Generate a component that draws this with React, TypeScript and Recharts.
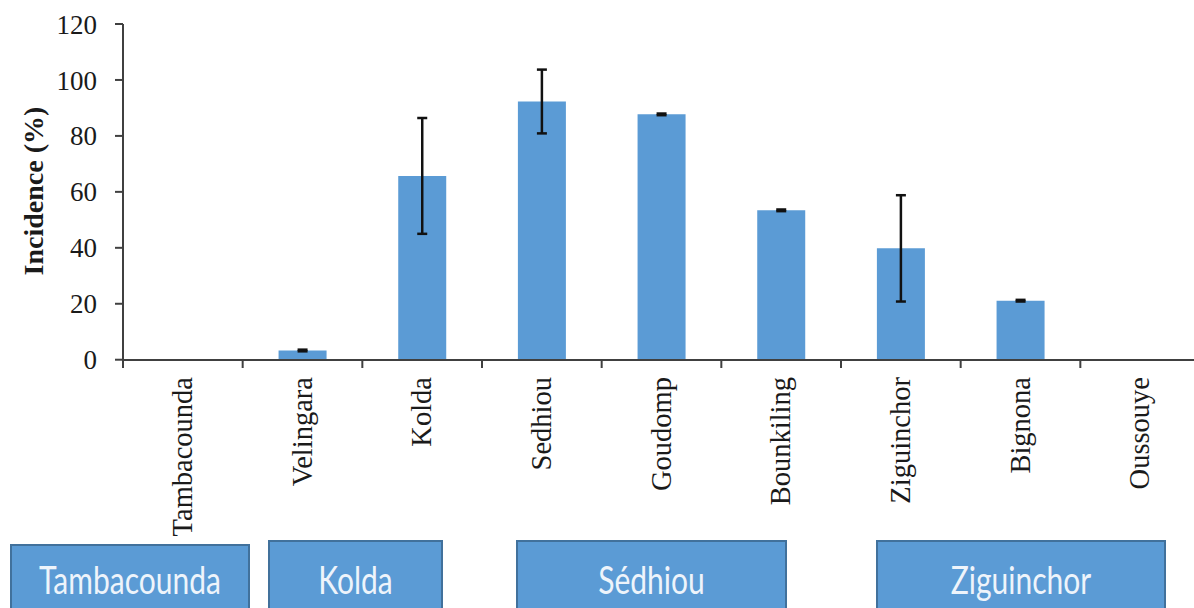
import { BarChart, Bar, XAxis, YAxis, ErrorBar } from 'recharts';

// Disease incidence per department, grouped by region
const districts = [
  'Tambacounda',
  'Velingara',
  'Kolda',
  'Sedhiou',
  'Goudomp',
  'Bounkiling',
  'Ziguinchor',
  'Bignona',
  'Oussouye',
];
const incidence = [0, 3.3, 65.7, 92.3, 87.7, 53.4, 39.8, 21.1, 0];
const errors = [0.1, 0.3, 20.7, 11.4, 0.3, 0.3, 19, 0.3, 0.1];
const yTicks = [0, 20, 40, 60, 80, 100, 120];
const regions = ['Tambacounda', 'Kolda', 'Sédhiou', 'Ziguinchor'];

const data = districts.map((district, i) => ({
  district,
  incidence: incidence[i],
  err: errors[i],
}));

// layout of the region boxes under the axis
const boxLayout = [
  { left: 10, top: 544, width: 240 },
  { left: 268, top: 540, width: 175 },
  { left: 516, top: 540, width: 271 },
  { left: 876, top: 540, width: 290 },
];

const SERIF = '"Liberation Serif", "Times New Roman", serif';
const AXIS = '#404040';

function DistrictTick(props: any) {
  const { x, y, payload, index } = props;
  const half = payload?.offset || 59.8;
  return (
    <g>
      <line x1={x - half} y1={y} x2={x - half} y2={y + 8} stroke={AXIS} strokeWidth={2} />
      {index === districts.length - 1 && (
        <line x1={x + half} y1={y} x2={x + half} y2={y + 8} stroke={AXIS} strokeWidth={2} />
      )}
      <text
        transform={`translate(${x + 9},${y + 17}) rotate(-90)`}
        textAnchor="end"
        fontFamily={SERIF}
        fontSize={28.5}
        fill="#1a1a1a"
      >
        {payload.value}
      </text>
    </g>
  );
}

export default function App() {
  return (
    <div
      style={{
        position: 'absolute',
        left: 0,
        top: 0,
        width: 1194,
        height: 608,
        overflow: 'hidden',
        background: '#fff',
      }}
    >
      <BarChart
        width={1200}
        height={608}
        data={data}
        margin={{ top: 24, right: 0, left: 0, bottom: 0 }}
        barCategoryGap="30%"
      >
        <XAxis
          dataKey="district"
          height={248}
          interval={0}
          tickLine={false}
          tickSize={0}
          tickMargin={0}
          axisLine={{ stroke: AXIS, strokeWidth: 2 }}
          tick={DistrictTick}
        />
        <YAxis
          domain={[0, 120]}
          ticks={yTicks}
          width={123}
          tickSize={8}
          tickMargin={18}
          axisLine={{ stroke: AXIS, strokeWidth: 2 }}
          tickLine={{ stroke: AXIS, strokeWidth: 2 }}
          tick={{ fill: '#1a1a1a', fontSize: 27, fontFamily: SERIF }}
          label={() => (
            <text
              transform="translate(33,191) rotate(-90)"
              textAnchor="middle"
              dominantBaseline="central"
              fontFamily={SERIF}
              fontWeight="bold"
              fontSize={28}
              fill="#1a1a1a"
            >
              Incidence (%)
            </text>
          )}
        />
        <Bar dataKey="incidence" fill="#5b9bd5" isAnimationActive={false}>
          <ErrorBar
            dataKey="err"
            direction="y"
            width={5}
            stroke="#111"
            strokeWidth={2.5}
            isAnimationActive={false}
          />
        </Bar>
      </BarChart>
      {regions.map((name, i) => (
        <div
          key={name}
          style={{
            position: 'absolute',
            left: boxLayout[i].left,
            top: boxLayout[i].top,
            width: boxLayout[i].width,
            height: 80,
            boxSizing: 'border-box',
            background: '#5b9bd5',
            border: '2px solid #41719c',
            color: '#eef4fb',
            fontFamily: 'Lato, "Open Sans", sans-serif',
            fontSize: 30,
            lineHeight: `${2 * (577 - boxLayout[i].top)}px`,
            textAlign: 'center',
          }}
        >
          <span style={{ display: 'inline-block', transform: 'scaleY(1.28)' }}>{name}</span>
        </div>
      ))}
    </div>
  );
}
